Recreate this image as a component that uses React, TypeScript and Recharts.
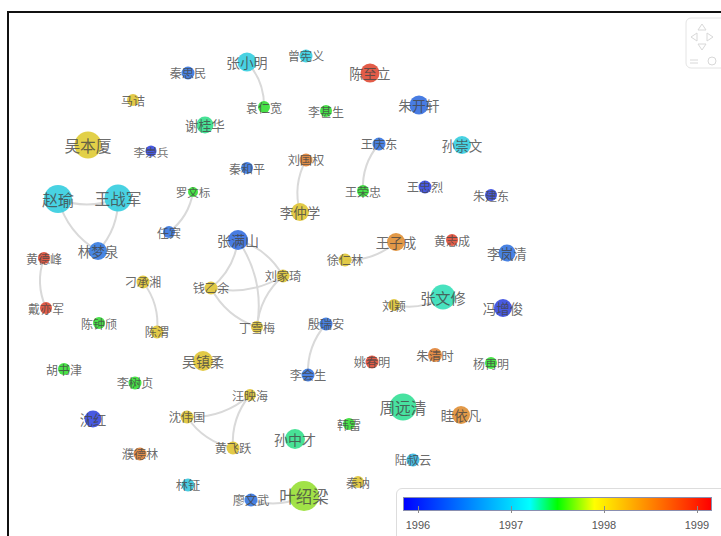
import React from 'react';
import { ScatterChart, Scatter, XAxis, YAxis } from 'recharts';

// node names, layout positions (force layout result), year and symbol radius
const names = [
  '秦思民', '张小明', '曾宪义', '陈至立', '马诘', '袁仁宽', '李甚生', '朱开轩', '谢桂华', '吴本厦',
  '李崇兵', '王庆东', '孙崇文', '秦和平', '刘国权', '王荣忠', '王忠烈', '朱建东', '赵瑜', '王战军',
  '罗文标', '任宾', '李仲学', '林梦泉', '黄德峰', '张满山', '王子成', '黄志成', '李岚清', '徐仁林',
  '刁承湘', '刘家琦', '钱乙余', '张文修', '刘颖', '冯增俊', '戴亦军', '陈钟颀', '陈渭', '丁雪梅',
  '殷瑞安', '吴镇柔', '胡书津', '李树贞', '姚春明', '朱清时', '杨再明', '李会生', '汪映海', '沈伟国',
  '沈红', '周远清', '眭依凡', '韩雷', '孙中才', '黄飞跃', '濮德林', '陆叔云', '林钲', '秦讷',
  '叶绍梁', '廖文武',
];

const posX = [
  188, 247, 306, 370, 133, 264, 326, 419, 205, 88,
  151, 379, 462, 247, 306, 363, 425, 491, 58, 118,
  193, 169, 300, 98, 44, 238, 396, 452, 507, 345,
  143, 283, 211, 443, 394, 503, 46, 99, 157, 257,
  326, 203, 64, 135, 372, 435, 491, 308, 250, 187,
  93, 403, 461, 349, 295, 233, 140, 413, 188, 358,
  304, 251,
];

const posY = [
  73, 62, 56, 73, 100, 107, 111, 105, 125, 145,
  151, 144, 145, 168, 160, 191, 187, 195, 199, 198,
  192, 232, 212, 251, 258, 240, 242, 240, 253, 260,
  282, 276, 288, 297, 305, 308, 308, 323, 332, 327,
  324, 361, 369, 383, 362, 355, 363, 375, 395, 417,
  419, 407, 415, 424, 439, 448, 454, 460, 485, 482,
  496, 500,
];

const years = [
  1996.35, 1997.05, 1997.05, 1999, 1998.1, 1997.5, 1997.5, 1996.3, 1997.35, 1998.05,
  1996, 1996.35, 1997.05, 1996.35, 1998.6, 1997.5, 1996, 1996, 1997.05, 1997.05,
  1997.5, 1996.35, 1998.1, 1996.4, 1999, 1996.3, 1998.5, 1999, 1996.35, 1998.1,
  1998.1, 1998.1, 1998.1, 1997.27, 1998.1, 1996, 1999, 1997.5, 1998.1, 1998.1,
  1996.35, 1998.1, 1997.5, 1997.5, 1999, 1998.6, 1997.5, 1996.35, 1998.1, 1998.1,
  1996, 1997.33, 1998.5, 1997.5, 1997.35, 1998.1, 1998.6, 1996.85, 1997, 1998.1,
  1997.73, 1996.35,
];

const sizes = [
  6.5, 9.5, 6.5, 9.5, 6, 6, 6, 9.5, 8.5, 13.5,
  5.5, 6.5, 9, 6, 6.5, 6, 6.5, 6, 14, 13.5,
  5, 6, 9, 9, 6, 10, 9, 6, 8.5, 6.5,
  6.5, 6.5, 6.5, 12.5, 6, 9, 6, 6, 6.5, 6,
  6.5, 10, 6, 6.5, 6.5, 7, 6, 6.5, 6, 6.5,
  8.5, 13.5, 9, 6, 10, 6.5, 6.5, 6.5, 6.5, 6,
  15, 6.5,
];

// co-occurrence links (source -> target)
const links: [string, string][] = [
  ['张小明', '袁仁宽'],
  ['李仲学', '刘国权'],
  ['王荣忠', '王庆东'],
  ['王战军', '赵瑜'],
  ['林梦泉', '赵瑜'],
  ['王战军', '林梦泉'],
  ['罗文标', '任宾'],
  ['戴亦军', '黄德峰'],
  ['刁承湘', '陈渭'],
  ['张满山', '钱乙余'],
  ['张满山', '刘家琦'],
  ['张满山', '丁雪梅'],
  ['刘家琦', '钱乙余'],
  ['丁雪梅', '钱乙余'],
  ['丁雪梅', '刘家琦'],
  ['王子成', '徐仁林'],
  ['张文修', '刘颖'],
  ['李会生', '殷瑞安'],
  ['汪映海', '沈伟国'],
  ['黄飞跃', '沈伟国'],
  ['黄飞跃', '汪映海'],
  ['叶绍梁', '廖文武'],
];

const legendYears = [1996, 1997, 1998, 1999];

const nodes = names.map((name, i) => ({
  name,
  x: posX[i],
  y: posY[i],
  year: years[i],
  size: sizes[i],
}));

const nodeByName: Record<string, any> = {};
nodes.forEach((n) => { nodeByName[n.name] = n; });

// visual map gradient (fraction along the bar -> colour)
const stops: [number, number[]][] = [
  [0, [0, 0, 255]],
  [0.41, [0, 255, 255]],
  [0.5, [0, 255, 0]],
  [0.62, [255, 255, 0]],
  [1, [255, 0, 0]],
];

function yearToFrac(y: number) {
  const f = 0.0485 + (y - 1996) * 0.301;
  return Math.max(0, Math.min(1, f));
}

function gradColor(f: number) {
  for (let i = 1; i < stops.length; i++) {
    if (f <= stops[i][0]) {
      const [f0, c0] = stops[i - 1];
      const [f1, c1] = stops[i];
      const t = (f - f0) / (f1 - f0);
      return c0.map((v, k) => v + (c1[k] - v) * t);
    }
  }
  return stops[stops.length - 1][1];
}

// nodes look washed out compared with the legend bar
function nodeColor(year: number) {
  const c = gradColor(yearToFrac(year));
  const m = c.map((v) => Math.round(v * 0.66 + 165 * 0.34));
  return `rgb(${m[0]},${m[1]},${m[2]})`;
}

const cjk = '"Noto Sans CJK SC", "Noto Sans", sans-serif';

function EdgeCurve(props: any) {
  const pts = props.points || [];
  if (pts.length < 2) return null;
  const a = pts[0];
  const b = pts[1];
  const k = 0.2;
  const qx = (a.x + b.x) / 2 - (a.y - b.y) * k;
  const qy = (a.y + b.y) / 2 - (b.x - a.x) * k;
  return (
    <path
      d={`M${a.x},${a.y}Q${qx},${qy} ${b.x},${b.y}`}
      fill="none"
      stroke="#d9d9d9"
      strokeWidth={2}
    />
  );
}

function NodeShape(props: any) {
  const { cx, cy, payload } = props;
  if (cx == null || cy == null) return null;
  const r = payload.size;
  const fs = 9 + r * 0.5;
  return (
    <g>
      <circle cx={cx} cy={cy} r={r} fill={nodeColor(payload.year)} fillOpacity={0.92} />
      <text
        x={cx}
        y={cy}
        textAnchor="middle"
        dominantBaseline="central"
        fontSize={fs}
        fontFamily={cjk}
        fill="#444"
        fillOpacity={0.8}
      >
        {payload.name}
      </text>
    </g>
  );
}

const tickX = (y: number) => 418 + (y - 1996) * 93;

export default function App() {
  return (
    <div style={{ position: 'fixed', left: 0, top: 0, width: 721, height: 536, background: '#fff', overflow: 'hidden' }}>
      <ScatterChart width={721} height={536} margin={{ top: 0, right: 0, bottom: 0, left: 0 }}>
        <XAxis type="number" dataKey="x" domain={[0, 721]} hide />
        <YAxis type="number" dataKey="y" domain={[0, 536]} reversed hide />
        {links.map(([s, t], i) => (
          <Scatter
            key={'e' + i}
            data={[nodeByName[s], nodeByName[t]]}
            line={<EdgeCurve />}
            shape={() => <g />}
            isAnimationActive={false}
          />
        ))}
        <Scatter data={nodes} shape={NodeShape} isAnimationActive={false} />
      </ScatterChart>

      {/* frame */}
      <div style={{ position: 'absolute', left: 7, top: 11, width: 740, height: 560, borderTop: '2px solid #111', borderLeft: '2px solid #111' }} />

      {/* toolbox */}
      <svg style={{ position: 'absolute', left: 684, top: 16 }} width={37} height={56}>
        <rect x={2} y={2} width={40} height={50} rx={5} fill="#fff" stroke="#e4e4e4" />
        <g fill="none" stroke="#d8d8d8" strokeWidth={1}>
          <path d="M18,8 L22,14 L14,14 Z" />
          <path d="M7,21 L13,17 L13,25 Z" />
          <path d="M29,21 L23,17 L23,25 Z" />
          <path d="M18,34 L22,28 L14,28 Z" />
          <path d="M6,44 L14,44 M6,47 L14,47" />
          <circle cx={28} cy={45} r={4} />
        </g>
      </svg>

      {/* visual map legend */}
      <div style={{ position: 'absolute', left: 396, top: 488, width: 340, height: 60, border: '1px solid #ddd', borderRadius: 6, background: '#fff' }} />
      <div
        style={{
          position: 'absolute',
          left: 403,
          top: 497,
          width: 309,
          height: 14,
          boxSizing: 'border-box',
          border: '1px solid #8a8fb0',
          background: 'linear-gradient(to right, #0000ff 0%, #00ffff 41%, #00ff00 50%, #ffff00 62%, #ff0000 100%)',
        }}
      />
      {legendYears.map((y) => (
        <React.Fragment key={y}>
          <div style={{ position: 'absolute', left: tickX(y), top: 506, width: 1, height: 7, background: '#8a8a8a' }} />
          <div
            style={{
              position: 'absolute',
              left: tickX(y) - 20,
              top: 519,
              width: 40,
              textAlign: 'center',
              fontSize: 11,
              fontFamily: '"Liberation Sans", Arial, sans-serif',
              color: '#555',
            }}
          >
            {y}
          </div>
        </React.Fragment>
      ))}
    </div>
  );
}
